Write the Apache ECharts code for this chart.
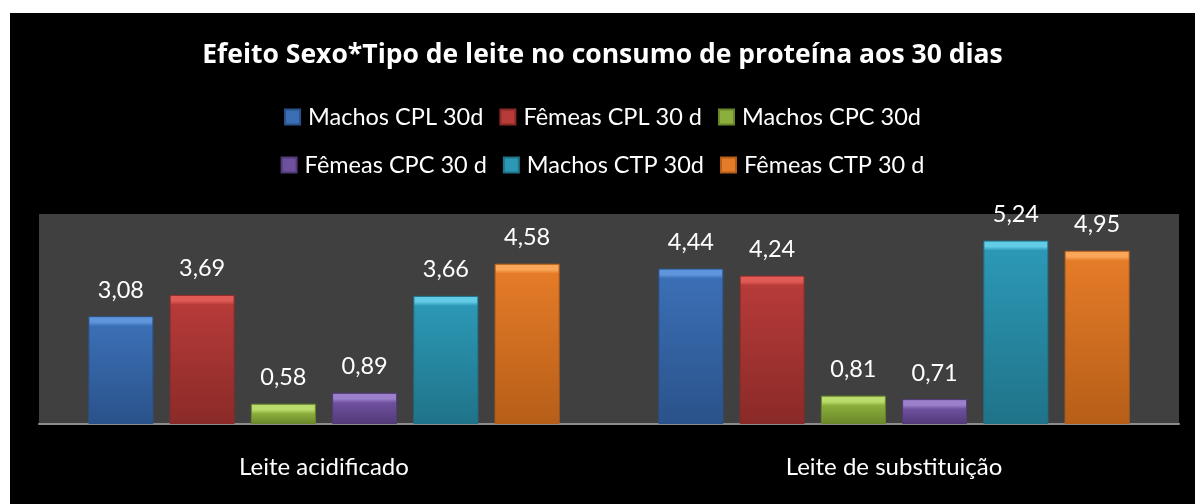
<!DOCTYPE html>
<html>
<head>
<meta charset="utf-8">
<script src="https://cdn.jsdelivr.net/npm/echarts@6/dist/echarts.min.js"></script>
<style>
  body { margin: 0; background: #ffffff; }
  #Echarts { position: absolute; left: 10px; top: 13px; width: 1185px; height: 491px; }
</style>
</head>
<body>
<div id="Echarts"></div>
<script>
// categorias e valores
const categories = ["Leite acidificado", "Leite de substituição"];
const series_names = [
  "Machos CPL 30d", "Fêmeas CPL 30 d", "Machos CPC 30d",
  "Fêmeas CPC 30 d", "Machos CTP 30d", "Fêmeas CTP 30 d"
];
const machos_cpl = [3.08, 4.44];
const femeas_cpl = [3.69, 4.24];
const machos_cpc = [0.58, 0.81];
const femeas_cpc = [0.89, 0.71];
const machos_ctp = [3.66, 5.24];
const femeas_ctp = [4.58, 4.95];
const all_values = [machos_cpl, femeas_cpl, machos_cpc, femeas_cpc, machos_ctp, femeas_ctp];

// cores: [topo claro, corpo, borda escura]
const colors = [
  ["#5f95dc", "#3b6fb5", "#2a528a"],
  ["#e05a56", "#b63b39", "#8a2a28"],
  ["#b9dc6c", "#8bae3c", "#6a872a"],
  ["#9d80cc", "#6e509e", "#523a78"],
  ["#62cbe6", "#2c98b5", "#1f7389"],
  ["#fba75a", "#e47b28", "#b65e18"]
];

const FONT = "Lato";
const PX_PER_UNIT = 35.17; // altura do grid / max do eixo
const BAND = 10; // altura do bisel no topo, px

const myChart = echarts.init(document.getElementById("Echarts"));

function bar_color (idx, v) {
  let b = Math.min(0.5, BAND / (v * PX_PER_UNIT));
  return new echarts.graphic.LinearGradient(0, 0, 0, 1, [
    { offset: 0, color: colors[idx][0] },
    { offset: b * 0.6, color: colors[idx][0] },
    { offset: b, color: colors[idx][1] },
    { offset: 1, color: colors[idx][2] }
  ]);
}

let series = [];
all_values.forEach(function (vals, idx) {
  series.push({
    type: "bar",
    name: series_names[idx],
    data: vals.map(function (v) {
      return { value: v, itemStyle: { color: bar_color(idx, v) } };
    }),
    barWidth: 65,
    barGap: "25%",
    itemStyle: {
      color: colors[idx][1],
      borderColor: colors[idx][2],
      borderWidth: 1
    },
    label: {
      show: true,
      position: "top",
      distance: 14,
      color: "#ffffff",
      fontSize: 23.5,
      fontFamily: FONT,
      formatter: function (p) {
        return p.value.toFixed(2).replace(".", ",");
      }
    }
  });
});

const legend_style = {
  icon: "rect",
  itemWidth: 15,
  itemHeight: 15,
  itemGap: 16,
  textStyle: { color: "#ffffff", fontSize: 23.5, fontFamily: FONT, padding: [0, 0, 0, 3] }
};

let option = {
  animation: false,
  backgroundColor: "#000000",
  color: colors.map(function (c) { return c[1]; }),
  title: {
    text: "Efeito Sexo*Tipo de leite no consumo de proteína aos 30 dias",
    left: "center",
    top: 24,
    textStyle: { color: "#ffffff", fontSize: 26.5, fontWeight: "bold", fontFamily: "Open Sans" }
  },
  legend: [
    Object.assign({ data: series_names.slice(0, 3), top: 87, left: "center" }, legend_style),
    Object.assign({ data: series_names.slice(3, 6), top: 135, left: "center" }, legend_style)
  ],
  grid: {
    left: 29,
    right: 16,
    top: 201,
    bottom: 80,
    show: true,
    backgroundColor: "#404040",
    borderWidth: 0
  },
  xAxis: {
    type: "category",
    data: categories,
    axisLine: { show: true, lineStyle: { color: "#8c8c8c", width: 2 } },
    axisTick: { show: false },
    axisLabel: { color: "#ffffff", fontSize: 24, fontFamily: FONT, margin: 31 }
  },
  yAxis: {
    type: "value",
    min: 0,
    max: 6,
    show: false,
    splitLine: { show: false }
  },
  series: series
};
myChart.setOption(option);
</script>
</body>
</html>
